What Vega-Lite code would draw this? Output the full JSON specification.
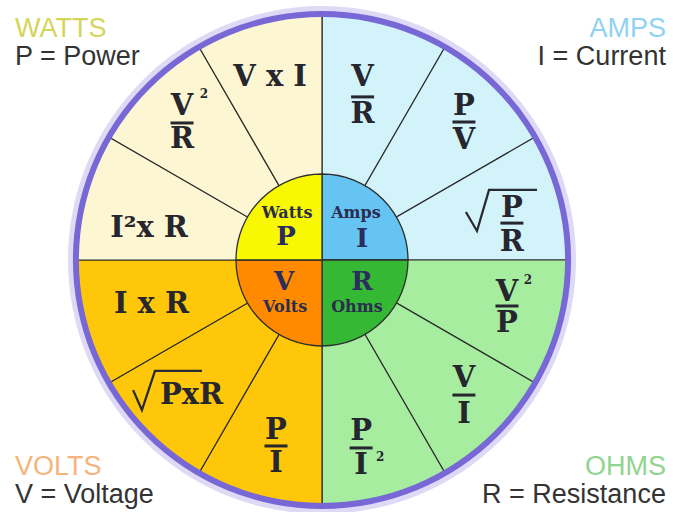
{
  "$schema": "https://vega.github.io/schema/vega-lite/v6.json",
  "width": 673,
  "height": 512,
  "autosize": {"type": "none"},
  "padding": 0,
  "background": "white",
  "config": {"view": {"stroke": null}},
  "datasets": {
    "sectors": [
      {"q": "Amps", "k": 1, "n": 1}, {"q": "Amps", "k": 2, "n": 1}, {"q": "Amps", "k": 3, "n": 1},
      {"q": "Ohms", "k": 4, "n": 1}, {"q": "Ohms", "k": 5, "n": 1}, {"q": "Ohms", "k": 6, "n": 1},
      {"q": "Volts", "k": 7, "n": 1}, {"q": "Volts", "k": 8, "n": 1}, {"q": "Volts", "k": 9, "n": 1},
      {"q": "Watts", "k": 10, "n": 1}, {"q": "Watts", "k": 11, "n": 1}, {"q": "Watts", "k": 12, "n": 1}
    ],
    "core": [
      {"q": "Amps", "k": 1, "n": 1}, {"q": "Ohms", "k": 2, "n": 1},
      {"q": "Volts", "k": 3, "n": 1}, {"q": "Watts", "k": 4, "n": 1}
    ],
    "ring": [{"n": 1}],
    "formulas": [
      {"t": "V x I", "u": -21.1, "v": 74.4},
      {"t": "V", "u": 16.5, "v": 74.4}, {"t": "R", "u": 16.5, "v": 59.2},
      {"t": "P", "u": 57.7, "v": 62.6}, {"t": "V", "u": 57.7, "v": 48.6},
      {"t": "P", "u": 77.2, "v": 21.1}, {"t": "R", "u": 77.2, "v": 7.5},
      {"t": "V", "u": 75.2, "v": -13.0}, {"t": "P", "u": 75.2, "v": -25.8},
      {"t": "V", "u": 57.7, "v": -48.0}, {"t": "I", "u": 57.7, "v": -62.4},
      {"t": "P", "u": 15.9, "v": -69.5}, {"t": "I", "u": 15.9, "v": -83.5},
      {"t": "P", "u": -18.7, "v": -69.1}, {"t": "I", "u": -18.7, "v": -82.7},
      {"t": "PxR", "u": -53.0, "v": -54.9},
      {"t": "I x R", "u": -69.3, "v": -17.9},
      {"t": "I²x R", "u": -70.3, "v": 13.0},
      {"t": "V", "u": -56.9, "v": 62.6}, {"t": "R", "u": -56.9, "v": 49.0}
    ],
    "sups": [
      {"t": "2", "u": -48.0, "v": 67.5},
      {"t": "2", "u": 83.7, "v": -8.1},
      {"t": "2", "u": 23.6, "v": -80.1}
    ],
    "bars": [
      {"u": 16.5, "v": 66.3}, {"u": 57.7, "v": 56.1}, {"u": 77.2, "v": 15.0},
      {"u": 75.2, "v": -18.7}, {"u": 57.7, "v": -54.9}, {"u": 15.9, "v": -76.4},
      {"u": -18.7, "v": -75.6}, {"u": -56.9, "v": 55.7}
    ],
    "radicals": [
      {"r": 1, "k": 1, "u": 58.5, "v": 19.5}, {"r": 1, "k": 2, "u": 63.0, "v": 11.8},
      {"r": 1, "k": 3, "u": 67.9, "v": 28.5}, {"r": 1, "k": 4, "u": 87.4, "v": 28.5},
      {"r": 2, "k": 1, "u": -76.8, "v": -52.9}, {"r": 2, "k": 2, "u": -73.2, "v": -61.0},
      {"r": 2, "k": 3, "u": -67.9, "v": -45.1}, {"r": 2, "k": 4, "u": -48.8, "v": -45.1}
    ],
    "coreBig": [
      {"t": "P", "u": -14.6, "v": 9.3}, {"t": "I", "u": 16.3, "v": 8.5},
      {"t": "V", "u": -15.4, "v": -8.9}, {"t": "R", "u": 16.3, "v": -8.9}
    ],
    "coreSmall": [
      {"t": "Watts", "u": -14.2, "v": 19.1}, {"t": "Amps", "u": 13.8, "v": 19.1},
      {"t": "Volts", "u": -15.0, "v": -19.1}, {"t": "Ohms", "u": 14.2, "v": -19.1}
    ],
    "titlesLeft": [
      {"t": "WATTS", "q": "Watts", "u": -124.8, "v": 90.6},
      {"t": "VOLTS", "q": "Volts", "u": -124.8, "v": -87.4}
    ],
    "titlesRight": [
      {"t": "AMPS", "q": "Amps", "u": 139.8, "v": 90.6},
      {"t": "OHMS", "q": "Ohms", "u": 139.8, "v": -87.4}
    ],
    "descLeft": [
      {"t": "P = Power", "u": -124.8, "v": 79.3},
      {"t": "V = Voltage", "u": -124.8, "v": -98.8}
    ],
    "descRight": [
      {"t": "I = Current", "u": 139.8, "v": 79.3},
      {"t": "R = Resistance", "u": 139.8, "v": -98.8}
    ]
  },
  "resolve": {"scale": {"color": "independent", "theta": "independent"}},
  "layer": [
    {
      "data": {"name": "ring"},
      "mark": {"type": "arc", "innerRadius": 246, "outerRadius": 254, "fill": "#c8c1f0", "opacity": 0.6},
      "encoding": {
        "x": {"datum": 0, "type": "quantitative", "scale": {"domain": [-130.894, 142.683], "nice": false, "zero": false}, "axis": null},
        "y": {"datum": 0, "type": "quantitative", "scale": {"domain": [-102.439, 105.691], "nice": false, "zero": false}, "axis": null},
        "theta": {"field": "n", "type": "quantitative", "stack": true}
      }
    },
    {
      "data": {"name": "sectors"},
      "mark": {"type": "arc", "outerRadius": 246, "stroke": "#2e2e2e", "strokeWidth": 1.2},
      "encoding": {
        "x": {"datum": 0, "type": "quantitative", "scale": {"domain": [-130.894, 142.683], "nice": false, "zero": false}, "axis": null},
        "y": {"datum": 0, "type": "quantitative", "scale": {"domain": [-102.439, 105.691], "nice": false, "zero": false}, "axis": null},
        "theta": {"field": "n", "type": "quantitative", "stack": true},
        "order": {"field": "k", "type": "quantitative"},
        "color": {"field": "q", "type": "nominal", "legend": null, "scale": {"domain": ["Amps", "Ohms", "Volts", "Watts"], "range": ["#d3f3fa", "#a6eda0", "#ffc70a", "#fdf6d2"]}}
      }
    },
    {
      "data": {"name": "core"},
      "mark": {"type": "arc", "outerRadius": 86, "stroke": "#2e2e2e", "strokeWidth": 1.3},
      "encoding": {
        "x": {"datum": 0, "type": "quantitative", "scale": {"domain": [-130.894, 142.683], "nice": false, "zero": false}, "axis": null},
        "y": {"datum": 0, "type": "quantitative", "scale": {"domain": [-102.439, 105.691], "nice": false, "zero": false}, "axis": null},
        "theta": {"field": "n", "type": "quantitative", "stack": true},
        "order": {"field": "k", "type": "quantitative"},
        "color": {"field": "q", "type": "nominal", "legend": null, "scale": {"domain": ["Amps", "Ohms", "Volts", "Watts"], "range": ["#66c4f2", "#35b935", "#ff8a00", "#f8f800"]}}
      }
    },
    {
      "data": {"name": "ring"},
      "mark": {"type": "arc", "innerRadius": 243, "outerRadius": 249, "fill": "#7768d6"},
      "encoding": {
        "x": {"datum": 0, "type": "quantitative", "scale": {"domain": [-130.894, 142.683], "nice": false, "zero": false}, "axis": null},
        "y": {"datum": 0, "type": "quantitative", "scale": {"domain": [-102.439, 105.691], "nice": false, "zero": false}, "axis": null},
        "theta": {"field": "n", "type": "quantitative", "stack": true}
      }
    },
    {
      "data": {"name": "formulas"},
      "mark": {"type": "text", "font": "DejaVu Serif", "fontWeight": "bold", "fontSize": 29, "color": "#26262e", "baseline": "middle", "align": "center"},
      "encoding": {
        "x": {"field": "u", "type": "quantitative", "scale": {"domain": [-130.894, 142.683], "nice": false, "zero": false}, "axis": null},
        "y": {"field": "v", "type": "quantitative", "scale": {"domain": [-102.439, 105.691], "nice": false, "zero": false}, "axis": null},
        "text": {"field": "t"}
      }
    },
    {
      "data": {"name": "sups"},
      "mark": {"type": "text", "font": "DejaVu Serif", "fontWeight": "bold", "fontSize": 12, "color": "#26262e", "baseline": "middle", "align": "center"},
      "encoding": {
        "x": {"field": "u", "type": "quantitative", "scale": {"domain": [-130.894, 142.683], "nice": false, "zero": false}, "axis": null},
        "y": {"field": "v", "type": "quantitative", "scale": {"domain": [-102.439, 105.691], "nice": false, "zero": false}, "axis": null},
        "text": {"field": "t"}
      }
    },
    {
      "data": {"name": "bars"},
      "mark": {"type": "tick", "orient": "horizontal", "size": 23, "thickness": 3, "color": "#26262e", "opacity": 1},
      "encoding": {
        "x": {"field": "u", "type": "quantitative", "scale": {"domain": [-130.894, 142.683], "nice": false, "zero": false}, "axis": null},
        "y": {"field": "v", "type": "quantitative", "scale": {"domain": [-102.439, 105.691], "nice": false, "zero": false}, "axis": null}
      }
    },
    {
      "data": {"name": "radicals"},
      "mark": {"type": "line", "color": "#2a2a30", "strokeWidth": 2.3, "strokeJoin": "miter"},
      "encoding": {
        "x": {"field": "u", "type": "quantitative", "scale": {"domain": [-130.894, 142.683], "nice": false, "zero": false}, "axis": null},
        "y": {"field": "v", "type": "quantitative", "scale": {"domain": [-102.439, 105.691], "nice": false, "zero": false}, "axis": null},
        "detail": {"field": "r", "type": "nominal"},
        "order": {"field": "k", "type": "quantitative"}
      }
    },
    {
      "data": {"name": "coreBig"},
      "mark": {"type": "text", "font": "DejaVu Serif", "fontWeight": "bold", "fontSize": 26, "color": "#2a2d5e", "baseline": "middle", "align": "center"},
      "encoding": {
        "x": {"field": "u", "type": "quantitative", "scale": {"domain": [-130.894, 142.683], "nice": false, "zero": false}, "axis": null},
        "y": {"field": "v", "type": "quantitative", "scale": {"domain": [-102.439, 105.691], "nice": false, "zero": false}, "axis": null},
        "text": {"field": "t"}
      }
    },
    {
      "data": {"name": "coreSmall"},
      "mark": {"type": "text", "font": "DejaVu Serif", "fontWeight": "bold", "fontSize": 16, "color": "#2a2d4e", "baseline": "middle", "align": "center"},
      "encoding": {
        "x": {"field": "u", "type": "quantitative", "scale": {"domain": [-130.894, 142.683], "nice": false, "zero": false}, "axis": null},
        "y": {"field": "v", "type": "quantitative", "scale": {"domain": [-102.439, 105.691], "nice": false, "zero": false}, "axis": null},
        "text": {"field": "t"}
      }
    },
    {
      "data": {"name": "titlesLeft"},
      "mark": {"type": "text", "font": "Liberation Sans", "fontSize": 27, "baseline": "alphabetic", "align": "left"},
      "encoding": {
        "x": {"field": "u", "type": "quantitative", "scale": {"domain": [-130.894, 142.683], "nice": false, "zero": false}, "axis": null},
        "y": {"field": "v", "type": "quantitative", "scale": {"domain": [-102.439, 105.691], "nice": false, "zero": false}, "axis": null},
        "text": {"field": "t"},
        "color": {"field": "q", "type": "nominal", "legend": null, "scale": {"domain": ["Amps", "Ohms", "Volts", "Watts"], "range": ["#8fd2f2", "#8fd48f", "#f4b47c", "#d3d65a"]}}
      }
    },
    {
      "data": {"name": "titlesRight"},
      "mark": {"type": "text", "font": "Liberation Sans", "fontSize": 27, "baseline": "alphabetic", "align": "right"},
      "encoding": {
        "x": {"field": "u", "type": "quantitative", "scale": {"domain": [-130.894, 142.683], "nice": false, "zero": false}, "axis": null},
        "y": {"field": "v", "type": "quantitative", "scale": {"domain": [-102.439, 105.691], "nice": false, "zero": false}, "axis": null},
        "text": {"field": "t"},
        "color": {"field": "q", "type": "nominal", "legend": null, "scale": {"domain": ["Amps", "Ohms", "Volts", "Watts"], "range": ["#8fd2f2", "#8fd48f", "#f4b47c", "#d3d65a"]}}
      }
    },
    {
      "data": {"name": "descLeft"},
      "mark": {"type": "text", "font": "Liberation Sans", "fontSize": 27, "baseline": "alphabetic", "align": "left", "color": "#333333"},
      "encoding": {
        "x": {"field": "u", "type": "quantitative", "scale": {"domain": [-130.894, 142.683], "nice": false, "zero": false}, "axis": null},
        "y": {"field": "v", "type": "quantitative", "scale": {"domain": [-102.439, 105.691], "nice": false, "zero": false}, "axis": null},
        "text": {"field": "t"}
      }
    },
    {
      "data": {"name": "descRight"},
      "mark": {"type": "text", "font": "Liberation Sans", "fontSize": 27, "baseline": "alphabetic", "align": "right", "color": "#333333"},
      "encoding": {
        "x": {"field": "u", "type": "quantitative", "scale": {"domain": [-130.894, 142.683], "nice": false, "zero": false}, "axis": null},
        "y": {"field": "v", "type": "quantitative", "scale": {"domain": [-102.439, 105.691], "nice": false, "zero": false}, "axis": null},
        "text": {"field": "t"}
      }
    }
  ]
}
